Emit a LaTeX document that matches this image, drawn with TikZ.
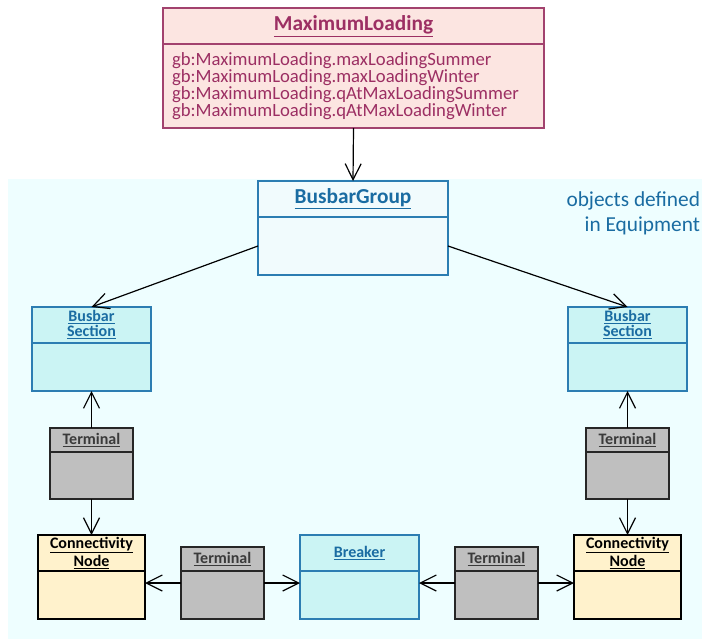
\documentclass[tikz,border=0pt]{standalone}
\usepackage{fontspec}
\setmainfont{Carlito}
\usetikzlibrary{arrows.meta,positioning}

\definecolor{mlfill}{HTML}{FCE5E1}
\definecolor{mlline}{HTML}{A2426E}
\definecolor{mltext}{HTML}{9C2F63}
\definecolor{eqbg}{HTML}{EEFEFF}
\definecolor{eqline}{HTML}{2C7DB2}
\definecolor{eqtext}{HTML}{1A6CA2}
\definecolor{grpfill}{HTML}{F1FBFD}
\definecolor{csfill}{HTML}{CBF4F4}
\definecolor{tmfill}{HTML}{BFBFBF}
\definecolor{tmtext}{HTML}{3A3A3A}
\definecolor{cnfill}{HTML}{FFF2CC}

\begin{document}
\begin{tikzpicture}[x=0.75pt, y=-0.75pt,
    every node/.style={inner sep=0pt, outer sep=0pt},
    hd/.style={rectangle, draw, line width=0.9pt, anchor=north west, align=center},
    bd/.style={rectangle, draw, line width=0.9pt, below=0pt of #1},
    mlbox/.style={fill=mlfill, draw=mlline, text=mltext},
    eqbox/.style={fill=csfill, draw=eqline, text=eqtext},
    tmbox/.style={fill=tmfill, draw=black!85, text=tmtext},
    cnbox/.style={fill=cnfill, draw=black, text=black},
    big/.style={font=\fontsize{16}{18}\selectfont\bfseries},
    sml/.style={font=\fontsize{12}{11.25}\selectfont\bfseries},
    e/.style={-{Straight Barb[length=12pt, width=12pt]}, line width=0.9pt},
  ]
  \useasboundingbox (0,0) rectangle (702,639);
  \fill[eqbg] (8,179) rectangle (702,639);

  % attribute class
  \node[hd, mlbox, big, minimum width=285.75pt, minimum height=27pt] (mlh) at (163,8) {\underline{MaximumLoading}};
  \node[bd=mlh, mlbox, minimum width=285.75pt, minimum height=63pt, text width=272.25pt,
        inner xsep=6.75pt, align=left, font=\fontsize{14}{12.75}\selectfont] (mlb)
       {gb:MaximumLoading.maxLoadingSummer\\gb:MaximumLoading.maxLoadingWinter\\
        gb:MaximumLoading.qAtMaxLoadingSummer\\gb:MaximumLoading.qAtMaxLoadingWinter};

  % equipment objects
  \node[hd, eqbox, fill=grpfill, big, minimum width=142.5pt, minimum height=27pt] (bgh) at (258,181) {\underline{BusbarGroup}};
  \node[bd=bgh, eqbox, fill=grpfill, minimum width=142.5pt, minimum height=43.5pt] (bgb) {};
  \node[anchor=north east, align=right, text=eqtext, font=\fontsize{16}{18.75}\selectfont] (eqlbl) at (700,192) {objects defined\\in Equipment};

  \node[hd, eqbox, sml, minimum width=89.25pt, minimum height=27pt] (bslh) at (32,307) {\underline{Busbar}\\\underline{Section}};
  \node[bd=bslh, eqbox, minimum width=89.25pt, minimum height=36pt] (bslb) {};
  \node[hd, eqbox, sml, minimum width=89.25pt, minimum height=27pt] (bsrh) at (568,307) {\underline{Busbar}\\\underline{Section}};
  \node[bd=bsrh, eqbox, minimum width=89.25pt, minimum height=36pt] (bsrb) {};

  \node[hd, tmbox, sml, minimum width=62.25pt, minimum height=18pt] (tlh) at (50,428) {\underline{Terminal}};
  \node[bd=tlh, tmbox, minimum width=62.25pt, minimum height=35.25pt] (tlb) {};
  \node[hd, tmbox, sml, minimum width=62.25pt, minimum height=18pt] (trh) at (586,428) {\underline{Terminal}};
  \node[bd=trh, tmbox, minimum width=62.25pt, minimum height=35.25pt] (trb) {};

  \node[hd, cnbox, sml, minimum width=80.25pt, minimum height=27pt] (cnlh) at (38,535) {\underline{Connectivity}\\\underline{Node}};
  \node[bd=cnlh, cnbox, minimum width=80.25pt, minimum height=36pt] (cnlb) {};
  \node[hd, cnbox, sml, minimum width=80.25pt, minimum height=27pt] (cnrh) at (574,535) {\underline{Connectivity}\\\underline{Node}};
  \node[bd=cnrh, cnbox, minimum width=80.25pt, minimum height=36pt] (cnrb) {};

  \node[hd, tmbox, sml, minimum width=62.25pt, minimum height=18pt] (tmlh) at (181,547) {\underline{Terminal}};
  \node[bd=tmlh, tmbox, minimum width=62.25pt, minimum height=36pt] (tmlb) {};
  \node[hd, eqbox, sml, minimum width=89.25pt, minimum height=27pt] (brkh) at (300,535) {\underline{Breaker}};
  \node[bd=brkh, eqbox, minimum width=89.25pt, minimum height=36pt] (brkb) {};
  \node[hd, tmbox, sml, minimum width=62.25pt, minimum height=18pt] (tmrh) at (455,547) {\underline{Terminal}};
  \node[bd=tmrh, tmbox, minimum width=62.25pt, minimum height=36pt] (tmrb) {};

  % associations
  \draw[e] (mlb.south) -- (bgh.north);
  \draw[e] (bgb.west) -- (bslh.north);
  \draw[e] (bgb.east) -- (bsrh.north);
  \draw[e] (tlh.north) -- (bslb.south);
  \draw[e] (tlb.south) -- (cnlh.north);
  \draw[e] (trh.north) -- (bsrb.south);
  \draw[e] (trb.south) -- (cnrh.north);
  \draw[e] ([yshift=9pt]tmlb.west) -- ([yshift=9pt]cnlb.east);
  \draw[e] ([yshift=9pt]tmlb.east) -- ([yshift=9pt]brkb.west);
  \draw[e] ([yshift=9pt]tmrb.west) -- ([yshift=9pt]brkb.east);
  \draw[e] ([yshift=9pt]tmrb.east) -- ([yshift=9pt]cnrb.west);
\end{tikzpicture}
\end{document}
